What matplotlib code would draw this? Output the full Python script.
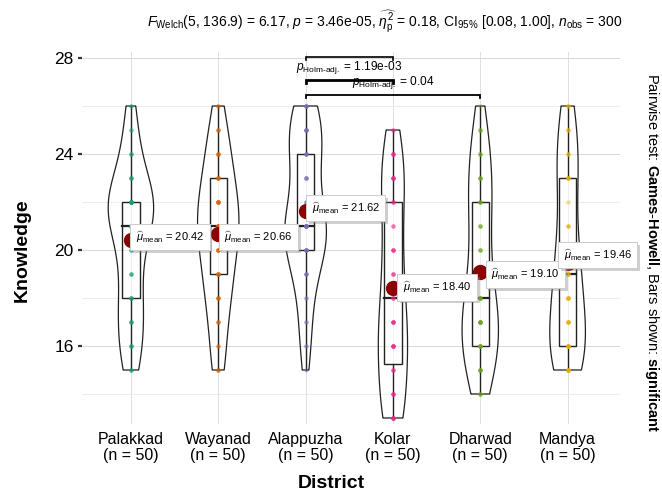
import numpy as np
import matplotlib
matplotlib.use("Agg")
import matplotlib.pyplot as plt
from matplotlib import patheffects as pe
from matplotlib.patches import Rectangle

# ---------------- data ----------------
districts = ["Palakkad", "Wayanad", "Alappuzha", "Kolar", "Dharwad", "Mandya"]
score_levels = [13, 14, 15, 16, 17, 18, 19, 20, 21, 22, 23, 24, 25, 26]
# number of respondents at each knowledge score (levels above)
palakkad_counts  = [0, 0, 3, 4, 4, 4, 3, 3, 7, 11, 4, 3, 2, 2]
wayanad_counts   = [0, 0, 3, 2, 3, 4, 5, 5, 8, 6, 5, 4, 3, 2]
alappuzha_counts = [0, 0, 1, 2, 2, 2, 4, 6, 10, 3, 4, 5, 6, 5]
kolar_counts     = [6, 4, 3, 6, 5, 3, 3, 4, 2, 3, 5, 4, 2, 0]
dharwad_counts   = [0, 3, 5, 6, 7, 5, 3, 3, 3, 4, 4, 3, 3, 1]
mandya_counts    = [0, 0, 7, 7, 5, 5, 4, 4, 3, 1, 5, 3, 3, 3]
all_counts = [palakkad_counts, wayanad_counts, alappuzha_counts,
              kolar_counts, dharwad_counts, mandya_counts]

point_colors = ["#1B9E77", "#D95F02", "#7570B3", "#E7298A", "#66A61E", "#E6AB02"]

# significance bars (pairs, p-value labels)
bracket_pairs = [("Alappuzha", "Kolar"), ("Alappuzha", "Kolar"), ("Alappuzha", "Dharwad")]
bracket_labels = [None, "1.19e-03", "0.04"]
bracket_levels = [28.04, 27.08, 26.46]

title_text = (r"$\mathit{F}_{\mathrm{Welch}}$(5, 136.9) = 6.17, $\mathit{p}$ = 3.46e-05, "
              r"$\widehat{\eta_{\mathrm{p}}^{2}}$ = 0.18, CI$_{95\%}$ [0.08, 1.00], "
              r"$\mathit{n}_{\mathrm{obs}}$ = 300")

# label offsets (pixels) for mean labels
label_dx = [5, 6, 6, 10, 11, -4]
label_dy = [3, -3, 3, 1, -3, 8]

# ---------------- style ----------------
plt.rcParams["font.family"] = ["Liberation Sans", "DejaVu Sans"]
plt.rcParams["mathtext.fontset"] = "custom"
plt.rcParams["mathtext.rm"] = "Liberation Sans"
plt.rcParams["mathtext.it"] = "Liberation Sans:italic"
plt.rcParams["mathtext.bf"] = "Liberation Sans:bold"
plt.rcParams["mathtext.sf"] = "Liberation Sans"

W, H = 662, 495
fig = plt.figure(figsize=(W / 100, H / 100), dpi=100)
L, R, T, B = 82, 620, 52, 424
ax = fig.add_axes([L / W, 1 - B / H, (R - L) / W, (B - T) / H])
ax.set_xlim(0.44, 6.6)
ax.set_ylim(12.75, 28.25)

for s in ax.spines.values():
    s.set_visible(False)

ax.set_yticks([16, 20, 24, 28])
ax.set_yticks([14, 18, 22, 26], minor=True)
ax.grid(True, axis="y", which="major", color="#D8D8D8", lw=0.7, zorder=0)
ax.grid(True, axis="y", which="minor", color="#EAEAEA", lw=0.6, zorder=0)
ax.grid(True, axis="x", which="major", color="#E0E0E0", lw=0.7, zorder=0)
ax.tick_params(axis="y", which="major", length=3, width=1.6, labelsize=12.5, pad=3, color="#333333")
ax.tick_params(axis="y", which="minor", length=0)

positions = np.arange(1, len(districts) + 1)


def nrd0(v):
    sd = np.std(v, ddof=1)
    iqr = np.subtract(*np.percentile(v, [75, 25]))
    lo = min(sd, iqr / 1.34)
    return 0.9 * lo * len(v) ** (-0.2)


datasets = [np.repeat(score_levels, c) for c in all_counts]
grids, dens = [], []
for v in datasets:
    g = np.linspace(v.min(), v.max(), 512)
    bw = nrd0(v)
    d = np.exp(-0.5 * ((g[:, None] - v[None, :]) / bw) ** 2).sum(1) / (len(v) * bw * np.sqrt(2 * np.pi))
    grids.append(g)
    dens.append(d)
dmax = max(d.max() for d in dens)

for i, (x, v) in enumerate(zip(positions, datasets)):
    g, d = grids[i], dens[i]
    w = 0.26 * d / dmax
    xs = np.concatenate([x - w, (x + w)[::-1]])
    ys = np.concatenate([g, g[::-1]])
    ax.fill(xs, ys, facecolor=(1, 1, 1, 0.25), edgecolor="#222222", lw=0.9, zorder=2)

    q1, med, q3 = np.percentile(v, [25, 50, 75])
    iqr = q3 - q1
    lo = v[v >= q1 - 1.5 * iqr].min()
    hi = v[v <= q3 + 1.5 * iqr].max()
    ax.plot([x, x], [lo, q1], color="#222222", lw=1.0, zorder=3)
    ax.plot([x, x], [q3, hi], color="#222222", lw=1.0, zorder=3)
    ax.add_patch(Rectangle((x - 0.1, q1), 0.2, q3 - q1, facecolor=(1, 1, 1, 0.3),
                           edgecolor="#222222", lw=1.0, zorder=3))
    ax.plot([x - 0.1, x + 0.1], [med, med], color="#222222", lw=1.6, zorder=3)

    ax.scatter(np.full(len(v), x), v, s=10, color=point_colors[i], alpha=0.4, lw=0, zorder=4)

    m = v.mean()
    ax.plot([x], [m], "o", ms=10, color="#8B0000", zorder=5)
    ann = ax.annotate(r"$\widehat{\mu}_{\mathrm{mean}}$ = " + f"{m:.2f}", xy=(x, m),
                      xytext=(label_dx[i], label_dy[i]), textcoords="offset pixels",
                      ha="left", va="center", fontsize=8.0, zorder=6,
                      bbox=dict(boxstyle="square,pad=0.5", fc="white", ec="#C8C8C8", lw=0.6))
    ann.get_bbox_patch().set_path_effects(
        [pe.withSimplePatchShadow(offset=(2, -2), shadow_rgbFace="#888888", alpha=0.4), pe.Normal()])

ax.set_xticks(positions)
ax.set_xticklabels([f"{d}\n(n = {len(v)})" for d, v in zip(districts, datasets)],
                   fontsize=11.5, linespacing=1.05)
ax.tick_params(axis="x", length=0, pad=6)

# significance brackets
pos_of = {d: p for d, p in zip(districts, positions)}
for (a, b), yv, lab, lw in zip(bracket_pairs, bracket_levels, bracket_labels, [1.2, 2.0, 1.3]):
    xa, xb = pos_of[a], pos_of[b]
    ax.plot([xa, xa, xb, xb], [yv - 0.14, yv, yv, yv - 0.14], color="black", lw=lw,
            zorder=7, clip_on=False, solid_joinstyle="miter")
    if lab is not None:
        ax.text((xa + xb) / 2, yv + 0.52, r"$\mathit{p}_{\mathrm{Holm\text{-}adj.}}$ = " + lab,
                ha="center", va="center", fontsize=8.6, zorder=7)

# texts
fig.text(385 / W, 1 - 22 / H, title_text, ha="center", va="center", fontsize=10.0)
fig.text(22 / W, 1 - 250 / H, "Knowledge", rotation=90, ha="center", va="center",
         fontsize=14, fontweight="bold")
fig.text(331 / W, 1 - 483 / H, "District", ha="center", va="center",
         fontsize=14, fontweight="bold")
fig.text(652 / W, 1 - 253 / H,
         r"Pairwise test: $\mathbf{Games}$-$\mathbf{Howell}$, Bars shown: $\mathbf{significant}$",
         rotation=270, ha="center", va="center", fontsize=10.5)

fig.savefig("out.png", dpi=100)
